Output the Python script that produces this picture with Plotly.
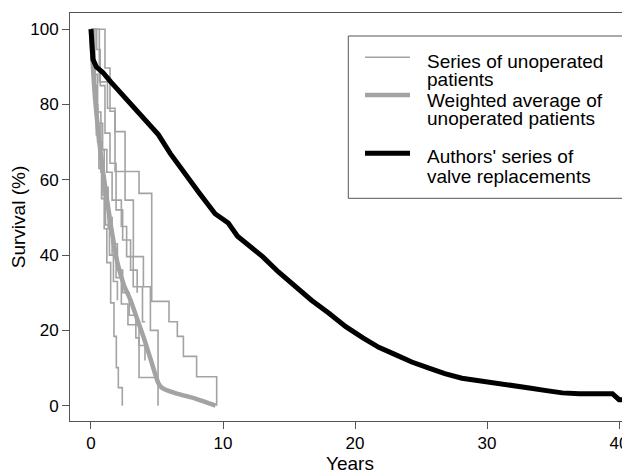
import plotly.graph_objects as go

# ---- Individual series of unoperated patients (years, survival %) ----
ser_a_x = [0, 1.06, 1.44, 1.82, 3.64, 4.6, 5.91, 6.54, 7.0, 8.0, 9.52]
ser_a_y = [100, 89.7, 78.2, 62.2, 56.4, 27.7, 22.3, 18.4, 13.1, 7.7, 0]
ser_b_x = [0, 0.63, 1.25, 1.82, 2.58, 3.21, 3.97, 4.5, 5.08]
ser_b_y = [100, 86, 79, 72.8, 54.6, 39.6, 31.6, 20, 0]
ser_c_x = [0, 0.1, 0.25, 0.4, 0.6, 0.8, 1.0, 1.2, 1.49, 1.74, 1.92, 2.07, 2.37]
ser_c_y = [100, 92, 82, 72, 63, 55, 47, 38, 27.3, 18.4, 10.1, 4.8, 0]
ser_d_x = [0, 0.3, 0.5, 0.75, 1.0, 1.3, 1.6, 2.0, 2.4, 2.9, 3.4, 3.64, 4.96]
ser_d_y = [100, 88, 78, 68, 58, 50, 43, 36, 30, 24, 18, 7.5, 7.5]
ser_e_x = [0, 0.18, 0.43, 0.88, 1.2, 1.6, 2.3, 2.7, 3.2, 3.9, 4.1]
ser_e_y = [100, 85, 75, 68, 62, 54.6, 47.6, 39.6, 31.6, 22.3, 22.3]
ser_f_x = [0, 0.15, 0.3, 0.5, 0.75, 1.0, 1.3, 1.6, 1.9, 2.3, 2.8, 3.64, 4.09]
ser_f_y = [100, 90, 80, 70, 62, 55, 47, 40, 34, 27, 21.5, 16, 12]
ser_g_x = [0, 0.43, 0.7, 1.06, 1.44, 1.9, 2.4, 3.0, 3.5]
ser_g_y = [100, 94.6, 85, 72.4, 64.4, 52, 44, 36, 30]
ser_h_x = [0, 0.08, 0.2, 0.35, 0.5, 0.7, 0.9, 1.1, 1.4, 1.7, 2.0]
ser_h_y = [100, 95, 88, 80, 72, 63, 56, 48, 40, 33, 28]

# ---- Weighted average of unoperated patients ----
avg_x = [0, 0.08, 0.3, 0.6, 1.0, 1.5, 2.0, 2.5, 3.0, 3.6, 4.0, 4.5, 4.9, 5.1, 5.3, 5.5, 6.5, 7.8, 9.44]
avg_y = [100, 94, 82, 71, 60, 48, 38, 32, 28, 22, 18, 12.5, 8, 6, 5, 4.5, 3.2, 2, 0]

# ---- Authors' series of valve replacements ----
auth_x = [0, 0.05, 0.15, 0.4, 0.9, 1.5, 2.0, 2.6, 3.5, 4.3, 5.1, 6.0, 7.1, 8.2, 9.4, 10.4,
          11.1, 12.0, 13.0, 14.2, 15.5, 16.7, 18.0, 19.3, 20.6, 21.8, 23.1, 24.3, 25.6,
          26.8, 28.1, 29.5, 30.7, 32.0, 33.2, 34.5, 35.7, 37.0, 38.5, 39.5, 40.0, 41.0]
auth_y = [100, 95, 92, 90, 88.5, 86, 84, 82, 78, 75, 72, 67, 62, 56.5, 51, 48.5,
          45, 42.5, 39.6, 35.5, 31.6, 28, 24.6, 21, 18, 15.5, 13.5, 11.6, 10,
          8.5, 7.3, 6.5, 6.0, 5.3, 4.7, 4.0, 3.4, 3.2, 3.2, 3.2, 1.6, 1.6]

legend_labels = [["Series of unoperated", "patients"],
                 ["Weighted average of", "unoperated patients"],
                 ["Authors' series of", "valve replacements"]]

x_ticks = [0, 10, 20, 30, 40]
y_ticks = [0, 20, 40, 60, 80, 100]

series = [(ser_a_x, ser_a_y), (ser_b_x, ser_b_y), (ser_c_x, ser_c_y), (ser_d_x, ser_d_y),
          (ser_e_x, ser_e_y), (ser_f_x, ser_f_y), (ser_g_x, ser_g_y), (ser_h_x, ser_h_y)]

GREY = "#a3a3a3"
FONT = "Liberation Sans, Arial, sans-serif"

# figure geometry (page is rendered with an 8px body margin)
OFF = 8
W, H = 622, 467
ML, MR, MT, MB = 62, 0, 5, 54
PW, PH = W - ML - MR, H - MT - MB


def px(xp):
    return (xp - OFF - ML) / PW


def py(yp):
    return (H - MB - (yp - OFF)) / PH


fig = go.Figure()
for sx, sy in series:
    fig.add_trace(go.Scatter(
        x=sx, y=sy, mode="lines", line=dict(color=GREY, width=1.6, shape="hv"),
        name=" ".join(legend_labels[0]), showlegend=False, hoverinfo="skip"))
fig.add_trace(go.Scatter(
    x=avg_x, y=avg_y, mode="lines",
    line=dict(color=GREY, width=4.5, shape="spline", smoothing=0.6),
    name=" ".join(legend_labels[1]), showlegend=False))
fig.add_trace(go.Scatter(
    x=auth_x, y=auth_y, mode="lines", line=dict(color="black", width=5),
    name=" ".join(legend_labels[2]), showlegend=False))

axis_common = dict(
    showline=True, linecolor="#555", linewidth=1, ticks="outside", ticklen=7,
    tickcolor="#555", showgrid=False, zeroline=False,
    tickfont=dict(size=17, color="black", family=FONT))
fig.update_xaxes(range=[-1.59, 40.83], tickvals=x_ticks, mirror=True, automargin=False,
                 title=dict(text="Years", font=dict(size=19, color="black", family=FONT),
                            standoff=1),
                 **axis_common)
fig.update_yaxes(range=[-4.07, 104.3], tickvals=y_ticks, mirror=True, automargin=False,
                 title=dict(text="Survival (%)", font=dict(size=19, color="black", family=FONT),
                            standoff=1),
                 **axis_common)

# ---- manual legend ----
shapes = [dict(type="rect", xref="paper", yref="paper",
               x0=px(348.3), x1=px(625.7), y0=py(198.3), y1=py(36),
               line=dict(color="#555", width=1), fillcolor="white", layer="above")]
sample_styles = [(57.3, GREY, 1.6), (95, GREY, 4.5), (153.3, "black", 5)]
for ys, col, wd in sample_styles:
    shapes.append(dict(type="line", xref="paper", yref="paper",
                       x0=px(365), x1=px(410), y0=py(ys), y1=py(ys),
                       line=dict(color=col, width=wd), layer="above"))
text_y = [(61.7, 80), (100, 118.3), (156.7, 176)]
annotations = []
for lines, ys in zip(legend_labels, text_y):
    for t, yv in zip(lines, ys):
        annotations.append(dict(text=t, xref="paper", yref="paper", x=px(426),
                                y=py(yv), xanchor="left", yanchor="middle",
                                showarrow=False, borderpad=0,
                                font=dict(size=19, color="black", family=FONT)))

fig.update_layout(
    width=W, height=H,
    margin=dict(l=ML, r=MR, t=MT, b=MB, autoexpand=False),
    paper_bgcolor="white", plot_bgcolor="white",
    font=dict(family=FONT, size=17, color="black"),
    showlegend=False,
    shapes=shapes, annotations=annotations,
)
fig.write_html("out.html")
